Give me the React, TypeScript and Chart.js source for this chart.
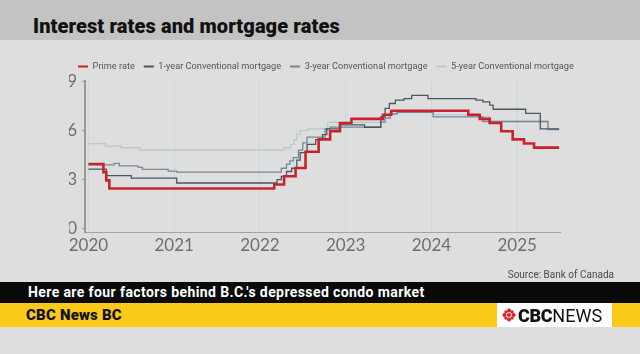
import React, { useEffect, useRef } from "react";
import { Chart, registerables } from "chart.js";

Chart.register(...registerables);

const seriesLabels = [
  "Prime rate",
  "1-year Conventional mortgage",
  "3-year Conventional mortgage",
  "5-year Conventional mortgage",
];

const primeDates = [2020.0, 2020.175, 2020.208, 2020.244, 2022.167, 2022.282, 2022.416, 2022.532, 2022.685, 2022.819, 2022.934, 2023.068, 2023.436, 2023.532, 2024.43, 2024.564, 2024.68, 2024.814, 2024.948, 2025.08, 2025.197, 2025.49];
const primeRates = [3.95, 3.45, 2.95, 2.45, 2.7, 3.2, 3.7, 4.7, 5.45, 5.95, 6.45, 6.7, 6.95, 7.2, 6.95, 6.7, 6.45, 5.95, 5.45, 5.2, 4.95, 4.95];

const oneYearDates = [2020.0, 2020.21, 2020.5, 2021.03, 2022.2, 2022.25, 2022.31, 2022.37, 2022.43, 2022.47, 2022.55, 2022.65, 2022.73, 2022.78, 2022.93, 2023.22, 2023.41, 2023.46, 2023.51, 2023.58, 2023.68, 2023.77, 2023.96, 2024.52, 2024.6, 2024.68, 2024.72, 2025.1, 2025.27, 2025.49];
const oneYearRates = [3.64, 3.24, 3.09, 2.79, 2.99, 3.19, 3.49, 3.69, 4.19, 4.64, 5.14, 5.44, 5.74, 6.09, 6.34, 6.19, 6.84, 7.34, 7.64, 7.84, 7.94, 8.14, 7.94, 7.84, 7.74, 7.54, 7.29, 7.04, 6.09, 6.09];

const threeYearDates = [2020.0, 2020.3, 2020.36, 2020.58, 2020.63, 2020.93, 2021.03, 2022.21, 2022.25, 2022.31, 2022.35, 2022.39, 2022.45, 2022.5, 2022.55, 2022.76, 2022.82, 2023.41, 2023.46, 2023.52, 2023.6, 2024.02, 2024.6, 2025.36, 2025.49];
const threeYearRates = [3.89, 3.99, 3.84, 3.74, 3.62, 3.51, 3.45, 3.45, 3.69, 3.94, 4.14, 4.34, 4.79, 5.24, 5.59, 6.09, 6.2, 6.5, 6.75, 7.0, 7.1, 6.82, 6.54, 6.05, 6.05];

const fiveYearDates = [2020.0, 2020.2, 2020.38, 2020.6, 2022.28, 2022.36, 2022.4, 2022.43, 2022.47, 2022.56, 2022.79, 2023.44, 2023.5, 2023.6, 2024.03, 2024.57, 2024.68, 2025.36, 2025.49];
const fiveYearRates = [5.19, 5.04, 4.94, 4.79, 4.94, 5.14, 5.44, 5.79, 5.99, 6.09, 6.49, 6.79, 7.04, 7.14, 6.94, 6.84, 6.54, 6.09, 6.09];

const xTickValues = [2020, 2021, 2022, 2023, 2024, 2025];
const yTickValues = [0, 3, 6, 9];

const seriesColors = ["#c8232c", "#4a5660", "#71899a", "#b6c8d0"];
const seriesWidths = [2.6, 1.3, 1.3, 1.3];

function toPoints(xs: number[], ys: number[]) {
  return xs.map((x, i) => ({ x, y: ys[i] }));
}

function Gem() {
  const petals = [0, 45, 90, 135, 180, 225, 270, 315];
  return (
    <svg width="14" height="14" viewBox="-7 -7 14 14" style={{ display: "block" }}>
      <circle cx="0" cy="0" r="2" fill="#e21b23" />
      {petals.map((a) => {
        const r = a % 90 === 0 ? 4.6 : 4.4;
        const cx = Math.cos((a * Math.PI) / 180) * r;
        const cy = Math.sin((a * Math.PI) / 180) * r;
        return <circle key={a} cx={cx} cy={cy} r={a % 90 === 0 ? 2 : 1.6} fill="#e21b23" />;
      })}
    </svg>
  );
}

export default function App() {
  const ref = useRef<HTMLCanvasElement>(null);

  useEffect(() => {
    if (!ref.current) return;
    const seriesData = [
      toPoints(primeDates, primeRates),
      toPoints(oneYearDates, oneYearRates),
      toPoints(threeYearDates, threeYearRates),
      toPoints(fiveYearDates, fiveYearRates),
    ];
    const chart = new Chart(ref.current, {
      type: "line",
      data: {
        datasets: seriesLabels.map((label, i) => ({
          label,
          data: seriesData[i],
          borderColor: seriesColors[i],
          backgroundColor: seriesColors[i],
          borderWidth: seriesWidths[i],
          stepped: "before" as const,
          pointRadius: 0,
          fill: false,
          yAxisID: "y",
        })),
      },
      options: {
        animation: false,
        responsive: false,
        maintainAspectRatio: false,
        layout: { padding: { left: 69, right: 20, top: 13, bottom: 0 } },
        plugins: {
          legend: {
            display: true,
            position: "top",
            align: "start",
            labels: {
              boxWidth: 10,
              boxHeight: 2,
              padding: 9,
              color: "#555",
              font: { family: "Roboto", size: 9.2 },
              generateLabels: (c: any) =>
                Chart.defaults.plugins.legend.labels.generateLabels(c).map((l: any) => ({
                  ...l,
                  lineWidth: 0,
                  fillStyle: l.strokeStyle,
                })),
            },
          },
          tooltip: { enabled: false },
        },
        scales: {
          x: {
            type: "linear",
            min: 2019.96,
            max: 2025.5,
            afterBuildTicks: (s: any) => {
              s.ticks = xTickValues.map((v) => ({ value: v }));
            },
            afterFit: (s: any) => {
              s.height = 48;
              s.paddingLeft = 0;
              s.paddingRight = 0;
            },
            ticks: {
              padding: 3,
              color: "#6e6e6e",
              font: { family: "Lato", size: 17 },
              maxRotation: 0,
              autoSkip: false,
              callback: (v: any) => String(v),
            },
            grid: { color: "#c9d6dc", lineWidth: 1, drawTicks: false },
            border: { display: true, color: "#a3a3a3", width: 1 },
          },
          y: {
            min: -0.2,
            max: 9,
            afterBuildTicks: (s: any) => {
              s.ticks = yTickValues.map((v) => ({ value: v }));
            },
            afterFit: (s: any) => {
              s.width = 16;
            },
            ticks: {
              padding: 5,
              color: "#6e6e6e",
              font: { family: "Lato", size: 17 },
              callback: (v: any) => String(v),
            },
            grid: { drawOnChartArea: false, drawTicks: true, tickLength: 3, color: "#9a9a9a" },
            border: { display: true, color: "#9a9a9a", width: 2 },
          },
          spacer: {
            type: "linear",
            position: "right",
            display: true,
            min: 0,
            max: 1,
            afterFit: (s: any) => {
              s.width = 60;
            },
            ticks: { display: false },
            grid: { display: false, drawTicks: false },
            border: { display: false },
          },
        },
      },
    });
    return () => chart.destroy();
  }, []);

  return (
    <div
      style={{
        position: "fixed",
        left: 0,
        top: 0,
        width: 640,
        height: 354,
        background: "#dedede",
        overflow: "hidden",
        fontFamily: "Roboto, sans-serif",
      }}
    >
      <div style={{ position: "absolute", left: 0, top: 0, width: 640, height: 40, background: "#c3c3c3" }} />
      <div
        style={{
          position: "absolute",
          left: 33,
          top: 16,
          fontSize: 20,
          lineHeight: "20px",
          fontWeight: 900,
          color: "#111",
          letterSpacing: "0.1px",
          whiteSpace: "nowrap",
        }}
      >
        Interest rates and mortgage rates
      </div>
      <canvas
        ref={ref}
        width={640}
        height={240}
        style={{ position: "absolute", left: 0, top: 40, width: 640, height: 240 }}
      />
      <div
        style={{
          position: "absolute",
          right: 26,
          top: 268,
          fontFamily: "Roboto",
          fontSize: 10,
          lineHeight: "14px",
          color: "#4a4a4a",
          whiteSpace: "nowrap",
        }}
      >
        Source: Bank of Canada
      </div>
      <div
        style={{
          position: "absolute",
          left: 0,
          top: 282,
          width: 640,
          height: 21,
          background: "#0a0a0a",
          color: "#fff",
          fontSize: 14,
          fontWeight: 700,
          lineHeight: "21px",
          paddingLeft: 28,
          letterSpacing: "0.4px",
          boxSizing: "border-box",
          whiteSpace: "nowrap",
        }}
      >
        Here are four factors behind B.C.'s depressed condo market
      </div>
      <div
        style={{
          position: "absolute",
          left: 0,
          top: 303,
          width: 640,
          height: 24,
          background: "#fbc918",
          color: "#111",
          fontSize: 15,
          fontWeight: 900,
          lineHeight: "24px",
          paddingLeft: 26,
          letterSpacing: "0.2px",
          boxSizing: "border-box",
          whiteSpace: "nowrap",
        }}
      >
        CBC News BC
      </div>
      <div
        style={{
          position: "absolute",
          left: 497,
          top: 303,
          width: 115,
          height: 24,
          background: "#ffffff",
          display: "flex",
          alignItems: "center",
          paddingLeft: 5,
          boxSizing: "border-box",
          whiteSpace: "nowrap",
        }}
      >
        <Gem />
        <span style={{ fontSize: 18, fontWeight: 900, color: "#111", marginLeft: 2, letterSpacing: "-0.3px" }}>CBC</span>
        <span style={{ fontSize: 18, fontWeight: 400, color: "#111" }}>NEWS</span>
      </div>
    </div>
  );
}
